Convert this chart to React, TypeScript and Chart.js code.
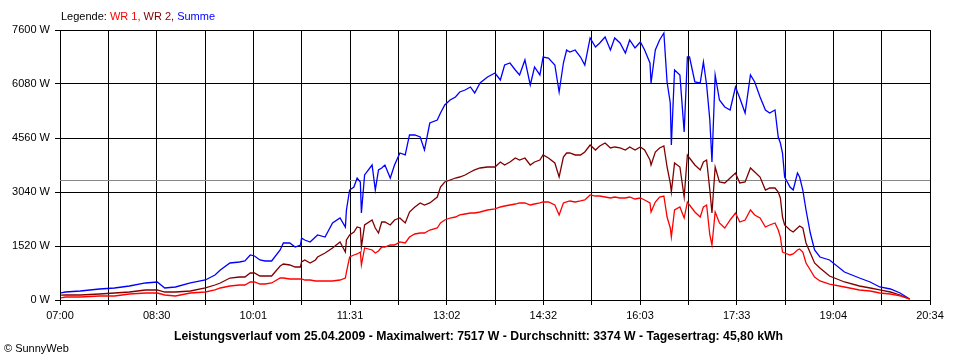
import React, { useEffect, useRef } from 'react';
import { Chart, registerables } from 'chart.js';

Chart.register(...registerables);

// Time axis: minutes after 07:00, axis ends at 20:34
const X_MAX = 814;
const tickLabels = ['07:00', '08:30', '10:01', '11:31', '13:02', '14:32', '16:03', '17:33', '19:04', '20:34'];
const Y_MAX = 7600;
const Y_STEP = 1520;

const seriesNames = ['WR 1', 'WR 2', 'Summe'];
const seriesColors = ['#ff0000', '#800000', '#0000ff'];

const reportDate = '25.04.2009';
const maxValue = 7517;
const averageValue = 3374;
const dailyYield = '45,80';

// sample times (minutes after 07:00)
const minutes = [
  1, 5, 19, 37, 51, 65, 80, 91, 98, 108, 122, 136, 145, 150, 159, 168, 173, 178, 182, 187,
  192, 198, 206, 209, 215, 220, 225, 226, 229, 234, 239, 241, 248, 255, 262, 267, 268, 271, 275, 278,
  281, 282, 285, 292, 295, 298, 301, 304, 309, 313, 318, 323, 327, 332, 337, 341, 346, 353, 356, 360,
  365, 370, 374, 379, 384, 388, 393, 400, 407, 412, 416, 421, 426, 430, 435, 440, 444, 449, 452, 457,
  463, 467, 471, 474, 477, 482, 487, 491, 496, 501, 505, 510, 515, 519, 524, 529, 533, 538, 543, 547,
  552, 553, 557, 561, 565, 568, 571, 572, 575, 580, 584, 587, 589, 594, 599, 602, 605, 608, 610, 613,
  617, 622, 627, 632, 636, 641, 646, 650, 655, 660, 664, 669, 672, 674, 676, 678, 683, 686, 690, 692,
  695, 698, 702, 706, 711, 720, 734, 748, 758, 767, 777, 786, 795,
];

const summe = [
  200, 225, 253, 310, 338, 394, 479, 507, 338, 366, 479, 563, 704, 845, 1042, 1070, 1098, 1267, 1239, 1126,
  1098, 1098, 1408, 1605, 1605, 1492, 1548, 1745, 1689, 1633, 1773, 1830, 1773, 2168, 2308, 2055, 2533, 3096, 3181, 3434,
  3322, 2449, 3519, 3800, 3096, 3660, 3716, 3800, 3434, 3800, 4138, 4082, 4645, 4645, 4588, 4222, 4982, 5067, 5264, 5489,
  5630, 5714, 5855, 5911, 5996, 5827, 6108, 6277, 6390, 6193, 6615, 6671, 6475, 6334, 6756, 6052, 6559, 6334, 6840, 6812,
  6615, 5855, 6671, 7037, 6981, 7037, 6840, 6615, 7375, 7122, 7234, 7403, 7037, 7375, 7234, 6953, 7319, 7094, 7263, 7037,
  6671, 6108, 7037, 7319, 7516, 6137, 5546, 4363, 6475, 6334, 4729, 6840, 6840, 6137, 6108, 6700, 6052, 5067, 3885, 6334,
  5630, 5433, 5348, 5996, 5686, 5264, 6334, 6137, 5714, 5348, 5264, 5348, 4588, 4419, 4138, 3462, 3181, 3096, 3575, 3462,
  3096, 2533, 1886, 1408, 1210, 1126, 788, 619, 507, 366, 310, 197, 28,
];

const wr2 = [
  140, 141, 141, 169, 197, 225, 282, 282, 225, 225, 253, 338, 422, 479, 619, 647, 647, 760, 760, 676,
  676, 676, 957, 1013, 985, 929, 929, 1070, 1126, 1042, 1126, 1210, 1323, 1464, 1633, 1351, 1689, 1830, 1914, 2055,
  2027, 1492, 2111, 2252, 2027, 1886, 2196, 2196, 2111, 2252, 2308, 2168, 2477, 2618, 2731, 2674, 2731, 2899, 3181, 3322,
  3378, 3434, 3462, 3519, 3603, 3660, 3716, 3744, 3744, 3885, 3800, 3885, 3997, 3941, 3997, 3800, 3885, 3941, 4082, 3997,
  3856, 3462, 4025, 4138, 4138, 4082, 4082, 4166, 4363, 4222, 4335, 4419, 4279, 4307, 4279, 4222, 4307, 4222, 4307, 4222,
  3941, 3800, 4166, 4279, 4335, 3744, 3293, 3040, 3856, 3744, 2899, 4082, 3997, 3800, 3660, 3885, 3941, 3096, 2449, 3744,
  3322, 3293, 3434, 3575, 3293, 3322, 3716, 3603, 3462, 3096, 3152, 3152, 3040, 2871, 2336, 2111, 1970, 1914, 2027, 2083,
  2027, 1605, 1323, 1042, 901, 676, 507, 394, 338, 282, 225, 141, 28,
];

const wr1 = [
  60, 84, 84, 113, 113, 169, 197, 197, 141, 113, 197, 225, 282, 338, 394, 422, 422, 507, 507, 450,
  450, 479, 619, 619, 591, 591, 591, 591, 563, 563, 535, 535, 535, 535, 563, 619, 788, 1210, 1267, 1295,
  1351, 985, 1464, 1408, 1323, 1379, 1492, 1492, 1548, 1548, 1633, 1605, 1773, 1858, 1886, 1886, 1970, 2027, 2168, 2252,
  2308, 2336, 2393, 2421, 2449, 2449, 2477, 2533, 2562, 2618, 2646, 2674, 2702, 2731, 2731, 2674, 2702, 2731, 2759, 2759,
  2674, 2393, 2731, 2759, 2787, 2759, 2787, 2815, 2956, 2927, 2927, 2899, 2871, 2899, 2871, 2871, 2899, 2843, 2871, 2815,
  2731, 2477, 2759, 2899, 2927, 2336, 2027, 1773, 2533, 2618, 2308, 2759, 2674, 2477, 2336, 2618, 2674, 1830, 1548, 2477,
  2168, 2027, 2252, 2449, 2196, 2252, 2533, 2393, 2308, 2055, 2111, 2168, 1970, 1773, 1351, 1323, 1267, 1295, 1408, 1436,
  1351, 1042, 845, 647, 535, 450, 366, 282, 253, 197, 169, 113, 28,
];

const FONT = '"Liberation Sans", Arial, sans-serif';

const toPoints = (vals: number[]) => vals.map((v, i) => ({ x: minutes[i], y: v }));

const textPlugin = {
  id: 'sunnyTexts',
  beforeDatasetsDraw(chart: any) {
    const { ctx, chartArea, scales } = chart;
    const y = Math.round(scales.y.getPixelForValue(averageValue)) + 0.5;
    ctx.save();
    ctx.strokeStyle = '#888888';
    ctx.lineWidth = 1;
    ctx.beginPath();
    ctx.moveTo(chartArea.left, y);
    ctx.lineTo(chartArea.right, y);
    ctx.stroke();
    ctx.restore();
  },
  afterDraw(chart: any) {
    const { ctx } = chart;
    ctx.save();
    // legend
    ctx.font = `11px ${FONT}`;
    ctx.textBaseline = 'middle';
    ctx.textAlign = 'left';
    let x = 61;
    const parts = [
      { t: 'Legende: ', c: '#000000' },
      { t: seriesNames[0] + ', ', c: seriesColors[0] },
      { t: seriesNames[1] + ', ', c: seriesColors[1] },
      { t: seriesNames[2], c: seriesColors[2] },
    ];
    for (const p of parts) {
      ctx.fillStyle = p.c;
      ctx.fillText(p.t, x, 17);
      x += ctx.measureText(p.t).width;
    }
    // bottom title
    const title = `Leistungsverlauf vom ${reportDate} - Maximalwert: ${maxValue} W - Durchschnitt: ${averageValue} W - Tagesertrag: ${dailyYield} kWh`;
    ctx.font = `bold 12px ${FONT}`;
    const w = ctx.measureText(title).width;
    const targetW = 609;
    ctx.fillStyle = '#000000';
    ctx.textAlign = 'left';
    ctx.save();
    ctx.translate(174, 337);
    ctx.scale(targetW / w, 1);
    ctx.fillText(title, 0, 0);
    ctx.restore();
    // copyright
    ctx.font = `11px ${FONT}`;
    ctx.textAlign = 'left';
    ctx.fillText('© SunnyWeb', 4, 349);
    ctx.restore();
  },
};

export default function App() {
  const ref = useRef<HTMLCanvasElement | null>(null);
  useEffect(() => {
    if (!ref.current) return;
    const chart = new Chart(ref.current, {
      type: 'line',
      data: {
        datasets: [
          { label: seriesNames[0], data: toPoints(wr1), borderColor: seriesColors[0], borderWidth: 1.3, pointRadius: 0, tension: 0, fill: false },
          { label: seriesNames[1], data: toPoints(wr2), borderColor: seriesColors[1], borderWidth: 1.3, pointRadius: 0, tension: 0, fill: false },
          { label: seriesNames[2], data: toPoints(summe), borderColor: seriesColors[2], borderWidth: 1.3, pointRadius: 0, tension: 0, fill: false },
        ],
      },
      options: {
        animation: false,
        responsive: false,
        devicePixelRatio: 1,
        layout: { padding: { top: 30, right: 30, left: 0, bottom: 0 } },
        plugins: { legend: { display: false }, tooltip: { enabled: false }, title: { display: false } },
        scales: {
          x: {
            type: 'linear',
            min: 0,
            max: X_MAX,
            afterBuildTicks: (axis: any) => {
              axis.ticks = Array.from({ length: 19 }, (_, i) => ({ value: (i * X_MAX) / 18 }));
            },
            afterFit: (axis: any) => {
              axis.height = 60;
            },
            ticks: {
              autoSkip: false,
              maxRotation: 0,
              minRotation: 0,
              padding: 4,
              color: '#000000',
              font: { family: FONT, size: 11 },
              callback: (_v: any, i: number) => (i % 2 === 0 ? tickLabels[i / 2] : ''),
            },
            grid: { color: '#000000', lineWidth: 1, tickLength: 5, drawTicks: true },
            border: { color: '#000000', width: 1 },
          },
          y: {
            min: 0,
            max: Y_MAX,
            afterFit: (axis: any) => {
              axis.width = 60;
            },
            ticks: {
              stepSize: Y_STEP,
              padding: 5,
              color: '#000000',
              font: { family: FONT, size: 11 },
              callback: (v: any) => `${v} W`,
            },
            grid: { color: '#000000', lineWidth: 1, tickLength: 5, drawTicks: true },
            border: { color: '#000000', width: 1 },
          },
        },
      },
      plugins: [textPlugin],
    } as any);
    return () => chart.destroy();
  }, []);
  return (
    <div style={{ position: 'absolute', left: 0, top: 0, width: 960, height: 360, background: '#ffffff' }}>
      <canvas ref={ref} width={960} height={360} />
    </div>
  );
}
